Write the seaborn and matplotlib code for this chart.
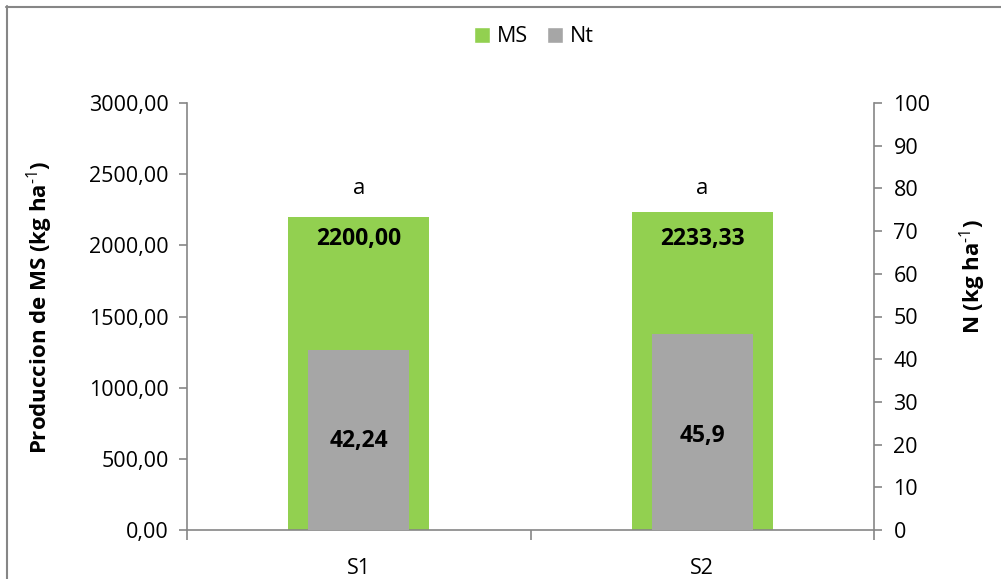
import matplotlib
matplotlib.use("Agg")
import matplotlib.pyplot as plt
import seaborn as sns
import pandas as pd
from matplotlib.lines import Line2D
from matplotlib.patches import Patch
from matplotlib.ticker import FuncFormatter, MultipleLocator

categories = ["S1", "S2"]
ms_values = [2200.00, 2233.33]
nt_values = [42.24, 45.9]
ms_labels = ["2200,00", "2233,33"]
nt_labels = ["42,24", "45,9"]
letters = ["a", "a"]

sns.set_style("white")
plt.rcParams["font.family"] = ["Open Sans", "DejaVu Sans"]
plt.rcParams["mathtext.fontset"] = "custom"
plt.rcParams["mathtext.rm"] = "Open Sans"
plt.rcParams["mathtext.bf"] = "Open Sans:bold"
plt.rcParams["text.color"] = "black"

GREEN = "#92D050"
GREY = "#A6A6A6"
AXC = "#868686"
FS = 15.5

fig = plt.figure(figsize=(10.01, 5.79), dpi=100)
ax = fig.add_axes([187/1001, 1-530/579, (874-187)/1001, (530-103)/579])

df = pd.DataFrame({"cat": categories, "MS": ms_values, "Nt": nt_values})
sns.barplot(data=df, x="cat", y="MS", color=GREEN, saturation=1, width=0.41, linewidth=0, ax=ax)
ax2 = ax.twinx()
sns.barplot(data=df, x="cat", y="Nt", color=GREY, saturation=1, width=0.295, linewidth=0, ax=ax2)

ax.set_xlim(-0.5, 1.5)
ax.set_ylim(0, 3000)
ax2.set_ylim(0, 100)
ax.yaxis.set_major_locator(MultipleLocator(500))
ax2.yaxis.set_major_locator(MultipleLocator(10))
ax.yaxis.set_major_formatter(FuncFormatter(lambda v, p: f"{v:.2f}".replace(".", ",")))

for a in (ax, ax2):
    for s in a.spines.values():
        s.set_visible(False)
ax.spines["left"].set_visible(True)
ax.spines["bottom"].set_visible(True)
ax2.spines["right"].set_visible(True)
for s in (ax.spines["left"], ax.spines["bottom"], ax2.spines["right"]):
    s.set_color(AXC)
    s.set_linewidth(1.2)

ax.tick_params(axis="y", direction="out", length=6, width=1.2, color=AXC, labelcolor="black",
               labelsize=FS, pad=7, left=True)
ax2.tick_params(axis="y", direction="out", length=6, width=1.2, color=AXC, labelcolor="black",
                labelsize=FS, pad=8, right=True)
ax.set_xticks([0, 1])
ax.set_xticklabels(categories)
ax.set_xticks([-0.5, 0.5, 1.5], minor=True)
ax.tick_params(axis="x", which="major", length=0, labelsize=FS, labelcolor="black", pad=20)
ax.tick_params(axis="x", which="minor", direction="out", length=7, width=1.2, color=AXC, bottom=True)
ax.set_xlabel("")

ax.set_ylabel("")
ax2.set_ylabel("")
fig.text(40/1001, 1-307/579, "Produccion de MS (kg ha$^{\\text{-1}}$)", rotation=90,
         ha="center", va="center", fontsize=16, fontweight="bold")
fig.text(973/1001, 1-277/579, "N (kg ha$^{\\text{-1}}$)", rotation=90,
         ha="center", va="center", fontsize=16, fontweight="bold")

for i in range(len(categories)):
    ax.text(i, 2400, letters[i], ha="center", va="center", fontsize=16)
    ax.text(i, 2045, ms_labels[i], ha="center", va="center", fontsize=16.5, fontweight="bold")
    ax2.text(i, 20.8 if i == 0 else 22.0, nt_labels[i], ha="center", va="center", fontsize=16.5,
             fontweight="bold")

handles = [Patch(facecolor=GREEN, label="MS"), Patch(facecolor=GREY, label="Nt")]
fig.legend(handles=handles, loc="center", bbox_to_anchor=(534/1001, 1-37/579), ncol=2, frameon=False,
           fontsize=FS, handlelength=0.75, handleheight=0.75, handletextpad=0.3, columnspacing=0.9)

fig.add_artist(Line2D([6/1001, 1.0], [1-6.5/579]*2, color=AXC, lw=1.5, transform=fig.transFigure))
fig.add_artist(Line2D([6.5/1001]*2, [0, 1-6/579], color=AXC, lw=1.5, transform=fig.transFigure))

fig.savefig("out.png", dpi=100)
